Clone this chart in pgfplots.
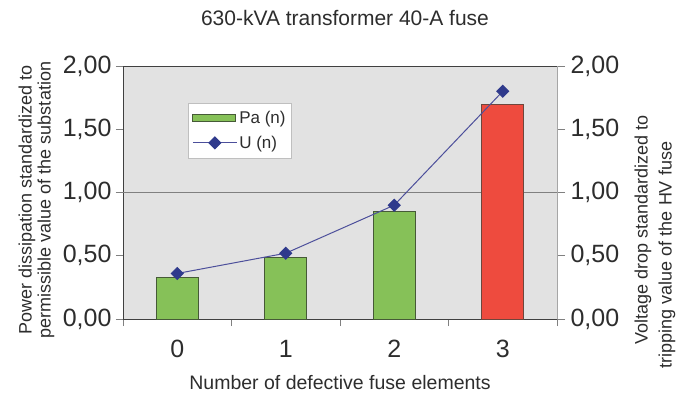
\documentclass[border=0pt]{standalone}
\usepackage{pgfplots}
\pgfplotsset{compat=1.18}
\usepackage{fontspec}
\setmainfont{Liberation Sans}
\definecolor{bgc}{RGB}{226,226,226}
\definecolor{grn}{RGB}{134,193,88}
\definecolor{grnedge}{RGB}{70,90,55}
\definecolor{redc}{RGB}{238,75,62}
\definecolor{rededge}{RGB}{110,70,60}
\definecolor{linec}{RGB}{76,79,155}
\definecolor{markc}{RGB}{47,58,140}
\definecolor{txt}{RGB}{45,45,45}
\pgfplotsset{
  barleg/.style={legend image code/.code={\draw[##1] (0pt,-3.5pt) rectangle (43pt,3.5pt);}},
  lineleg/.style={legend image code/.code={\draw[##1,mark repeat=2,mark phase=2] plot coordinates {(0pt,0pt)(22pt,0pt)(44pt,0pt)};}},
}
\begin{document}
\begin{tikzpicture}[x=1pt,y=1pt]
\useasboundingbox (0,0) rectangle (689,400);
\begin{axis}[
  at={(123pt,81pt)}, anchor=south west,
  scale only axis, width=434pt, height=253pt,
  xmin=-0.5, xmax=3.5, ymin=0, ymax=2,
  ybar, bar width=42pt,
  axis background/.style={fill=bgc},
  axis line style={draw=black!75, line width=0.9pt},
  xtick={0,1,2,3}, xticklabels={0,1,2,3},
  major x tick style={draw=none},
  minor xtick={-0.5,0.5,1.5,2.5,3.5},
  minor tick length=7pt,
  minor x tick style={draw=gray, line width=0.6pt},
  xtick pos=bottom, ytick pos=left,
  tick align=outside,
  ytick={0,0.5,1,1.5,2},
  major tick length=7pt,
  y tick style={draw=gray, line width=0.6pt},
  extra y ticks={1}, extra y tick labels={},
  extra y tick style={grid=major, major grid style={draw=gray, line width=0.6pt}},
  /pgf/number format/assume math mode=true,
  yticklabel={\pgfmathprintnumber[fixed,fixed zerofill,precision=2,use comma]{\tick}},
  tick label style={font=\fontsize{25}{28}\selectfont, text=txt},
  xticklabel style={yshift=-11pt},
  yticklabel style={xshift=-1pt},
  legend style={at={(0.15,0.854)}, anchor=north west, draw=gray!50, fill=white,
    font=\fontsize{17}{20}\selectfont, text=txt, inner xsep=4pt, inner ysep=6pt,
    row sep=7pt},
  legend cell align=left,
]
\addplot[ybar, bar shift=0pt, fill=grn, draw=grnedge, line width=0.7pt, barleg]
  coordinates {(0,0.33) (1,0.49) (2,0.85)};
\addlegendentry{Pa (n)}
\addplot[ybar, bar shift=0pt, fill=redc, draw=rededge, line width=0.7pt, forget plot]
  coordinates {(3,1.70)};
\addplot[sharp plot, color=linec, line width=1pt, mark=square*,
  mark size=4.2pt, mark options={rotate=45, fill=markc, draw=markc}, lineleg]
  coordinates {(0,0.36) (1,0.52) (2,0.90) (3,1.80)};
\addlegendentry{U (n)}
\end{axis}
\begin{axis}[
  at={(123pt,81pt)}, anchor=south west,
  scale only axis, width=434pt, height=253pt,
  xmin=-0.5, xmax=3.5, ymin=0, ymax=2,
  axis x line=none, axis y line*=right,
  axis line style={draw=gray!70, line width=0.6pt},
  ytick={0,0.5,1,1.5,2},
  tick align=outside, major tick length=8pt,
  y tick style={draw=gray, line width=0.6pt},
  /pgf/number format/assume math mode=true,
  yticklabel={\pgfmathprintnumber[fixed,fixed zerofill,precision=2,use comma]{\tick}},
  tick label style={font=\fontsize{25}{28}\selectfont, text=txt},
  yticklabel style={xshift=2pt},
]
\end{axis}
\node[text=txt, font=\fontsize{21}{24}\selectfont] at (345,382) {630-kVA transformer 40-A fuse};
\node[text=txt, font=\fontsize{19.5}{22}\selectfont] at (340,17) {Number of defective fuse elements};
\node[text=txt, rotate=90, font=\fontsize{18}{20}\selectfont] at (27,200) {Power dissipation standardized to};
\node[text=txt, rotate=90, font=\fontsize{18}{20}\selectfont] at (46,200) {permissible value of the substation};
\node[text=txt, rotate=90, font=\fontsize{18}{20}\selectfont] at (643,170) {Voltage drop standardized to};
\node[text=txt, rotate=90, font=\fontsize{18}{20}\selectfont] at (667,145) {tripping value of the HV fuse};
\end{tikzpicture}
\end{document}
